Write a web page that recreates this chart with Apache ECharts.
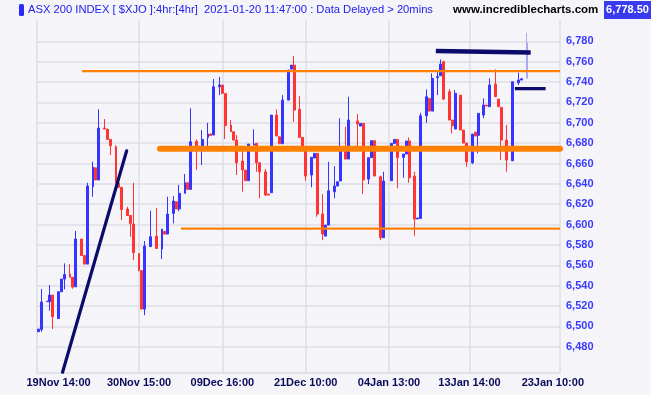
<!DOCTYPE html>
<html><head><meta charset="utf-8">
<script src="https://cdn.jsdelivr.net/npm/echarts@6/dist/echarts.min.js"></script>
<style>html,body{margin:0;padding:0;background:#f5f5f9;}#c{width:651px;height:395px;}</style>
</head><body><div id="c"></div>
<script>
// ---- data ----
const slotCount = 182;                       // 4 slots per trading day (3 bars + gap)
const tickSlots = [7, 35, 64, 93, 122, 150, 179];
const tickLabels = ['19Nov 14:00','30Nov 15:00','09Dec 16:00','21Dec 10:00','04Jan 13:00','13Jan 14:00','23Jan 10:00'];
const yTicks = [6480,6500,6520,6540,6560,6580,6600,6620,6640,6660,6680,6700,6720,6740,6760,6780];
const barSlot = [0,1,3,4,5,7,8,9,11,12,13,15,16,17,19,20,21,23,24,25,27,28,29,31,32,33,35,36,37,39,41,43,44,45,47,48,49,51,52,53,55,56,57,59,60,61,63,64,65,67,68,69,71,72,73,75,76,77,79,80,81,83,84,85,87,88,89,91,92,93,95,96,97,99,100,101,103,104,105,107,108,111,112,113,115,116,117,119,120,123,124,125,127,128,129,131,132,133,135,136,137,139,140,141,143,144,145,147,148,149,151,152,153,155,156,157,159,160,161,163,165,167,168,170];
const open  = [6494.7,6497.0,6524.3,6524.2,6530.8,6507.7,6534.0,6546.5,6551.4,6548.2,6538.9,6585.8,6569.6,6561.2,6637.2,6655.8,6643.8,6694.8,6693.8,6683.7,6676.5,6640.8,6636.6,6615.3,6608.9,6600.5,6571.6,6554.7,6517.0,6578.4,6588.7,6576.0,6593.4,6590.7,6611.0,6622.4,6615.3,6630.7,6641.1,6634.6,6681.8,6676.5,6675.2,6685.7,6689.0,6688.0,6735.4,6737.1,6728.9,6697.8,6691.2,6683.0,6662.4,6653.6,6643.1,6678.1,6679.8,6660.7,6651.9,6630.0,6631.3,6707.6,6686.3,6679.4,6722.3,6752.8,6756.7,6713.2,6685.7,6675.9,6648.7,6665.4,6670.0,6610.4,6588.7,6599.5,6632.3,6637.9,6642.8,6675.5,6664.4,6701.7,6696.8,6699.5,6644.7,6665.7,6682.4,6647.0,6587.1,6643.1,6679.8,6683.7,6666.1,6669.3,6682.1,6647.7,6605.5,6606.1,6706.9,6724.0,6711.5,6744.4,6746.2,6760.0,6730.5,6702.7,6693.9,6727.2,6692.9,6680.1,6660.7,6690.9,6687.7,6707.6,6717.4,6715.8,6738.1,6723.3,6715.2,6683.0,6662.7,6739.3,6742.0,6743.7];
const close = [6497.4,6524.0,6524.8,6530.8,6509.5,6534.0,6546.5,6550.9,6548.2,6538.6,6585.8,6569.6,6561.2,6637.9,6656.5,6643.8,6694.8,6693.8,6683.7,6677.4,6640.8,6636.6,6614.8,6608.9,6601.2,6572.3,6554.7,6517.0,6578.9,6588.1,6576.5,6595.6,6590.7,6610.4,6623.1,6615.3,6630.7,6641.1,6634.6,6681.4,6677.2,6677.0,6683.7,6688.9,6687.5,6735.4,6737.1,6728.9,6697.1,6691.2,6683.0,6660.7,6653.6,6643.1,6679.1,6679.1,6660.7,6651.9,6629.0,6629.0,6707.6,6687.0,6679.4,6722.3,6751.8,6756.7,6712.5,6685.7,6675.9,6647.7,6666.1,6670.0,6610.4,6590.7,6599.5,6633.2,6637.9,6642.1,6675.5,6664.4,6702.7,6698.8,6699.5,6643.8,6665.7,6682.4,6647.7,6587.1,6642.8,6679.8,6683.7,6665.7,6669.3,6682.1,6646.0,6605.4,6606.5,6706.9,6725.6,6711.5,6743.7,6745.4,6757.7,6723.3,6702.7,6697.1,6728.9,6692.9,6680.1,6661.7,6688.9,6687.0,6709.3,6717.4,6716.5,6737.1,6725.6,6715.8,6683.0,6663.4,6740.3,6742.0,6743.3,6778.5];
const low   = [6494.7,6494.7,6524.3,6515.4,6497.4,6507.7,6534.0,6536.4,6548.2,6537.0,6538.9,6569.6,6561.2,6561.2,6627.4,6643.8,6643.8,6693.8,6683.7,6668.3,6640.8,6636.6,6604.5,6608.9,6588.0,6565.2,6554.7,6517.0,6511.0,6578.0,6576.5,6566.2,6590.7,6590.7,6601.2,6615.3,6613.0,6630.7,6634.6,6634.6,6653.6,6676.5,6658.5,6672.5,6687.5,6688.0,6727.2,6728.9,6684.0,6691.2,6683.0,6648.7,6632.3,6643.1,6643.1,6678.1,6651.9,6625.8,6628.0,6629.0,6631.3,6687.0,6679.4,6679.4,6722.3,6752.8,6701.0,6685.7,6675.9,6643.1,6636.6,6665.4,6607.7,6584.8,6588.7,6599.5,6625.8,6637.9,6642.8,6664.4,6664.4,6676.5,6696.8,6630.0,6639.8,6665.7,6647.7,6584.8,6587.1,6643.1,6679.8,6635.6,6646.0,6669.3,6641.1,6589.0,6605.5,6606.1,6700.0,6711.5,6711.5,6727.2,6746.2,6722.3,6702.7,6689.6,6693.9,6692.9,6680.1,6656.8,6659.5,6687.0,6670.0,6704.4,6716.5,6715.8,6725.6,6715.8,6663.4,6651.9,6662.7,6737.1,6742.0,6743.7];
const high  = [6497.4,6536.7,6524.8,6540.6,6530.8,6534.0,6546.5,6561.9,6561.2,6548.2,6593.7,6585.8,6569.6,6641.1,6661.7,6655.8,6713.2,6703.7,6693.8,6683.7,6678.0,6640.8,6636.6,6617.5,6608.9,6641.1,6571.6,6554.7,6583.8,6613.6,6616.5,6595.6,6593.4,6627.4,6628.0,6622.4,6639.0,6649.7,6641.1,6714.2,6683.7,6677.0,6692.9,6700.0,6689.0,6743.0,6745.2,6737.1,6728.9,6702.7,6691.2,6688.0,6673.2,6653.6,6679.1,6693.6,6679.8,6660.7,6654.6,6630.0,6707.6,6713.2,6686.3,6727.2,6751.8,6756.7,6765.6,6726.3,6685.7,6675.9,6666.1,6670.0,6670.0,6630.0,6599.5,6661.7,6657.5,6642.1,6704.4,6696.1,6725.6,6708.6,6699.5,6699.5,6665.7,6682.4,6682.4,6648.0,6651.9,6679.8,6683.7,6683.7,6669.3,6682.1,6685.7,6651.9,6606.5,6709.9,6732.8,6724.0,6748.6,6751.8,6762.3,6761.0,6733.1,6702.7,6732.2,6727.2,6692.9,6680.1,6688.9,6690.9,6709.3,6724.0,6717.4,6743.7,6752.5,6723.3,6715.2,6697.8,6740.3,6749.2,6743.3,6788.4];
const liveSlot = 170;
const lastPrice = '6,778.50';
// drawn annotation lines: [slotFrom, priceFrom, slotTo, priceTo]
const supportLines = [[15.2, 6750.8, 181.5, 6750.8], [49.6, 6596.0, 181.5, 6596.0]];
const zoneLine = [42.3, 6674.4, 181.5, 6674.4];
const trendLine = [8.4, 6455.0, 30.7, 6672.5];
const navyLines = [[138.3, 6770.5, 171.3, 6769.0], [165.8, 6733.5, 176.5, 6733.5]];

// ---- build ----
const slotNames = Array.from({length: slotCount}, (_, i) => String(i));
const candle = slotNames.map(() => '-');
barSlot.forEach((s, k) => {
  const v = [open[k], close[k], low[k], high[k]];
  candle[s] = s === liveSlot
    ? {value: v, itemStyle: {color: '#a9a9f2', borderColor: '#a9a9f2', color0: '#a9a9f2', borderColor0: '#a9a9f2'}}
    : v;
});
const showTick = (i) => tickSlots.indexOf(i) >= 0;
const seg = (l, color, width, cap) => ({
  type: 'line', xAxisIndex: 1, yAxisIndex: 0, symbol: 'none', silent: true, animation: false,
  data: [[l[0], l[1]], [l[2], l[3]]],
  lineStyle: {color: color, width: width, cap: cap || 'butt'}, z: 5
});
const series = [{
  type: 'candlestick', data: candle, barWidth: 2.4, animation: false,
  itemStyle: {color: '#3535ff', color0: '#ff3535', borderColor: '#3535ff', borderColor0: '#ff3535', borderWidth: 1},
  z: 3
}];
supportLines.forEach(l => series.push(seg(l, '#ff8000', 2.2)));
series.push(seg(zoneLine, '#ff8000', 6, 'round'));
series.push(seg(trendLine, '#0b0b6b', 3.2, 'round'));
navyLines.forEach((l, i) => series.push(seg(l, '#0b0b6b', i === 0 ? 4.6 : 3.2, 'butt')));

const frame = {show: true, onZero: false, lineStyle: {color: '#dcdce6', width: 1.5}};
const chart = echarts.init(document.getElementById('c'), null, {renderer: 'canvas'});
chart.setOption({
  animation: false,
  backgroundColor: '#f5f5f9',
  grid: {left: 37, right: 91, top: 20, bottom: 22.3, show: false},
  xAxis: [{
    type: 'category', data: slotNames, boundaryGap: true,
    axisLine: frame, axisTick: {show: false},
    axisLabel: {interval: (i) => showTick(i), formatter: (v, i) => tickLabels[tickSlots.indexOf(Number(v))] || '',
      color: '#0a0a5a', fontWeight: 'bold', fontSize: 11, fontFamily: 'Liberation Sans', margin: 5},
    splitLine: {show: true, showMinLine: false, showMaxLine: false, interval: (i) => showTick(i), alignWithLabel: true, lineStyle: {color: '#dcdce6', width: 1.5}}
  }, {
    type: 'value', min: -0.5, max: slotCount - 0.5, show: false, axisLine: {onZero: false}
  }],
  yAxis: [{
    type: 'value', position: 'right', min: 6454.5, max: 6801, scale: true,
    axisLine: frame,
    axisTick: {show: false, customValues: yTicks},
    axisLabel: {customValues: yTicks, formatter: (v) => v.toLocaleString('en-US'), color: '#3a3aff', fontWeight: 'bold', fontSize: 11, fontFamily: 'Liberation Sans', margin: 6},
    splitLine: {show: true, lineStyle: {color: '#dcdce6', width: 1.5}}
  }, {
    type: 'value', position: 'left', min: 0, max: 1, axisLine: frame,
    axisTick: {show: false}, axisLabel: {show: false}, splitLine: {show: false}
  }],
  series: series,
  graphic: [
    {type: 'rect', shape: {x: 19, y: 4, width: 5, height: 12, r: 1.5}, style: {fill: '#2a2aff'}},
    {type: 'text', x: 28, y: 10, style: {text: 'ASX 200 INDEX [ $XJO ]:4hr:[4hr]  2021-01-20 11:47:00 : Data Delayed > 20mins',
      fill: '#2020ee', font: '11.2px "Liberation Sans", sans-serif', verticalAlign: 'middle'}},
    {type: 'text', x: 453, y: 10, style: {text: 'www.incrediblecharts.com', fill: '#000000', font: 'bold 11.5px "Liberation Sans", sans-serif', verticalAlign: 'middle'}},
    {type: 'rect', shape: {x: 604, y: 1, width: 47, height: 18}, style: {fill: '#3a3aee'}},
    {type: 'text', x: 627.5, y: 10, style: {text: lastPrice, fill: '#ffffff', font: 'bold 11px "Liberation Sans", sans-serif', align: 'center', verticalAlign: 'middle'}}
  ]
});
</script></body></html>
